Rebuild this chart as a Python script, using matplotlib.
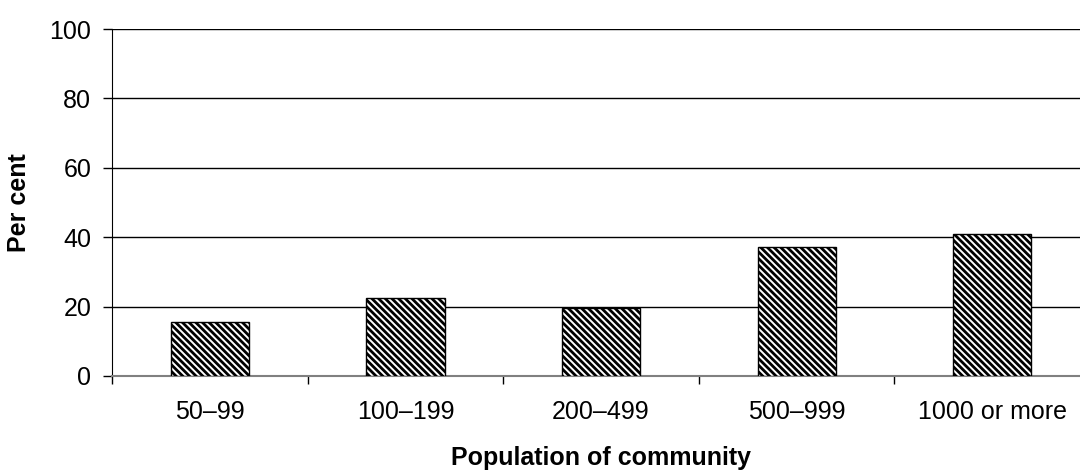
import matplotlib.pyplot as plt
import numpy as np

plt.rcParams['font.family'] = ['Liberation Sans', 'DejaVu Sans']
plt.rcParams['hatch.linewidth'] = 2.0

categories = ["50–99", "100–199", "200–499", "500–999", "1000 or more"]
per_cent = [15.6, 22.5, 19.5, 37.1, 41.0]
y_ticks = [0, 20, 40, 60, 80, 100]

fig = plt.figure(figsize=(10.8, 4.71), dpi=100)
ax = fig.add_axes([0.1037, 0.2017, 0.9056, 0.7367])

x = np.arange(len(categories))
ax.bar(x, per_cent, width=0.4, color='white', edgecolor='black',
       hatch='\\\\\\\\\\', linewidth=1.0, zorder=3)

ax.set_xlim(-0.5, len(categories) - 0.5)
ax.set_ylim(0, 100)
ax.set_yticks(y_ticks)
ax.yaxis.grid(True, color='black', linewidth=1.0, zorder=0)
ax.set_axisbelow(True)

# category labels sit between boundary ticks
ax.set_xticks(x)
ax.set_xticklabels(categories, fontsize=18)
ax.tick_params(axis='x', length=0, pad=17)
ax.set_xticks(np.arange(len(categories) + 1) - 0.5, minor=True)
ax.tick_params(axis='x', which='minor', length=6, width=1.0, color='black')
ax.tick_params(axis='y', labelsize=18, length=6.5, width=1.0, pad=8.5)

for side in ['top', 'right']:
    ax.spines[side].set_visible(False)
ax.spines['left'].set_color('black')
ax.spines['bottom'].set_color('#808080')
ax.spines['bottom'].set_linewidth(1.5)

ax.set_ylabel("Per cent", fontsize=18, fontweight='bold', labelpad=13.5)
ax.set_xlabel("Population of community", fontsize=18, fontweight='bold', labelpad=16)

fig.savefig("out.png", dpi=100, facecolor='white')
